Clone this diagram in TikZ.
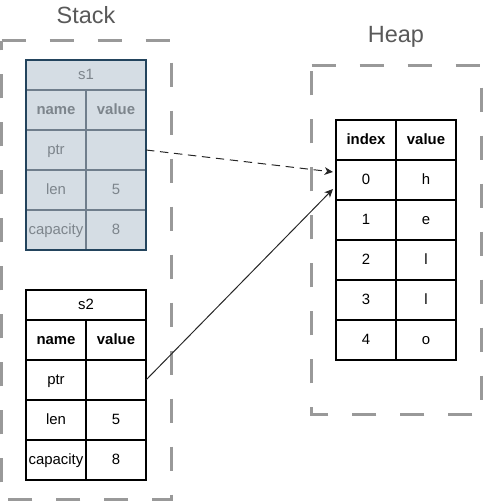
\documentclass[tikz,border=0pt]{standalone}
\usepackage{fontspec}
\setmainfont{Liberation Sans}
\usetikzlibrary{positioning,calc,arrows.meta}
\usepackage{xcolor}
\definecolor{regiongray}{RGB}{153,153,153}
\definecolor{labelgray}{RGB}{89,89,89}
\definecolor{s1fill}{RGB}{213,221,228}
\definecolor{s1grid}{RGB}{112,126,140}
\definecolor{s1border}{RGB}{35,68,93}
\definecolor{s1text}{RGB}{125,133,140}
\newcommand{\cellfont}{\fontsize{10.6}{12}\selectfont}
\newcommand{\regionfont}{\fontsize{16.7}{20}\selectfont}

\begin{document}
\begin{tikzpicture}[
    cell/.style={rectangle, draw, line width=0.8pt, minimum width=1.5cm, minimum height=1cm, inner sep=0pt, outer sep=0pt, text centered, text height=0.72em, text depth=0.08em, font=\cellfont},
    headcell/.style={cell, font=\cellfont\bfseries},
    tabletitle/.style={cell, minimum width=3cm, minimum height=0.75cm, anchor=north west},
    faded/.style={fill=s1fill, draw=s1grid, text=s1text},
    region/.style={draw=regiongray, line width=2.1pt, dash pattern=on 0.6cm off 0.6cm},
    regionlabel/.style={text=labelgray, font=\regionfont},
    ptrline/.style={line width=0.7pt, draw=black!85, -{Stealth[length=6pt,width=5.5pt,inset=1.8pt]}}
]
\useasboundingbox (0,0) rectangle (12.075,-12.55);

% Regions
\coordinate (stacktl) at (0.0375,-1.0125);
\coordinate (stackbr) at (4.2875,-12.4875);
\coordinate (heaptl) at (7.7875,-1.6375);
\coordinate (heapbr) at (12.0375,-10.3625);
\draw[region] (stacktl) -| (stackbr) -| (stacktl) -- cycle;
\draw[region] (heaptl) -| (heapbr) -| (heaptl) -- cycle;
\node (stacklabel) [regionlabel] at (2.15,-0.375) {Stack};
\node (heaplabel) [regionlabel] at (9.9,-0.925) {Heap};

% s1
\node (s1) [tabletitle, faded] at (0.65,-1.5) {s1};
\node (s1k0) [headcell, faded, anchor=north west] at (s1.south west) {name};
\node (s1v0) [headcell, faded, right=0pt of s1k0] {value};
\node (s1k1) [cell, faded, below=0pt of s1k0] {ptr};
\node (s1v1) [cell, faded, right=0pt of s1k1] {};
\node (s1k2) [cell, faded, below=0pt of s1k1] {len};
\node (s1v2) [cell, faded, right=0pt of s1k2] {5};
\node (s1k3) [cell, faded, below=0pt of s1k2] {capacity};
\node (s1v3) [cell, faded, right=0pt of s1k3] {8};
\draw[s1border, line width=0.8pt] (s1.north west) rectangle (s1v3.south east);

% s2
\node (s2) [tabletitle] at (0.65,-7.25) {s2};
\node (s2k0) [headcell, anchor=north west] at (s2.south west) {name};
\node (s2v0) [headcell, right=0pt of s2k0] {value};
\node (s2k1) [cell, below=0pt of s2k0] {ptr};
\node (s2v1) [cell, right=0pt of s2k1] {};
\node (s2k2) [cell, below=0pt of s2k1] {len};
\node (s2v2) [cell, right=0pt of s2k2] {5};
\node (s2k3) [cell, below=0pt of s2k2] {capacity};
\node (s2v3) [cell, right=0pt of s2k3] {8};

% Heap
\node (hidx) [headcell, anchor=north west] at (8.4,-3.0) {index};
\node (hval) [headcell, right=0pt of hidx] {value};
\node (h0) [cell, below=0pt of hidx] {0};
\node (h0v) [cell, right=0pt of h0] {h};
\node (h1) [cell, below=0pt of h0] {1};
\node (h1v) [cell, right=0pt of h1] {e};
\node (h2) [cell, below=0pt of h1] {2};
\node (h2v) [cell, right=0pt of h2] {l};
\node (h3) [cell, below=0pt of h2] {3};
\node (h3v) [cell, right=0pt of h3] {l};
\node (h4) [cell, below=0pt of h3] {4};
\node (h4v) [cell, right=0pt of h4] {o};

% Pointer
\coordinate (h0in1) at ($(h0.north west)+(-0.075,-0.3)$);
\coordinate (h0in2) at ($(h0.south west)+(-0.075,0.275)$);
\draw[ptrline, dash pattern=on 6pt off 4pt] (s1v1.east) -- (h0in1);
\draw[ptrline] (s2v1.east) -- (h0in2);

\end{tikzpicture}
\end{document}
